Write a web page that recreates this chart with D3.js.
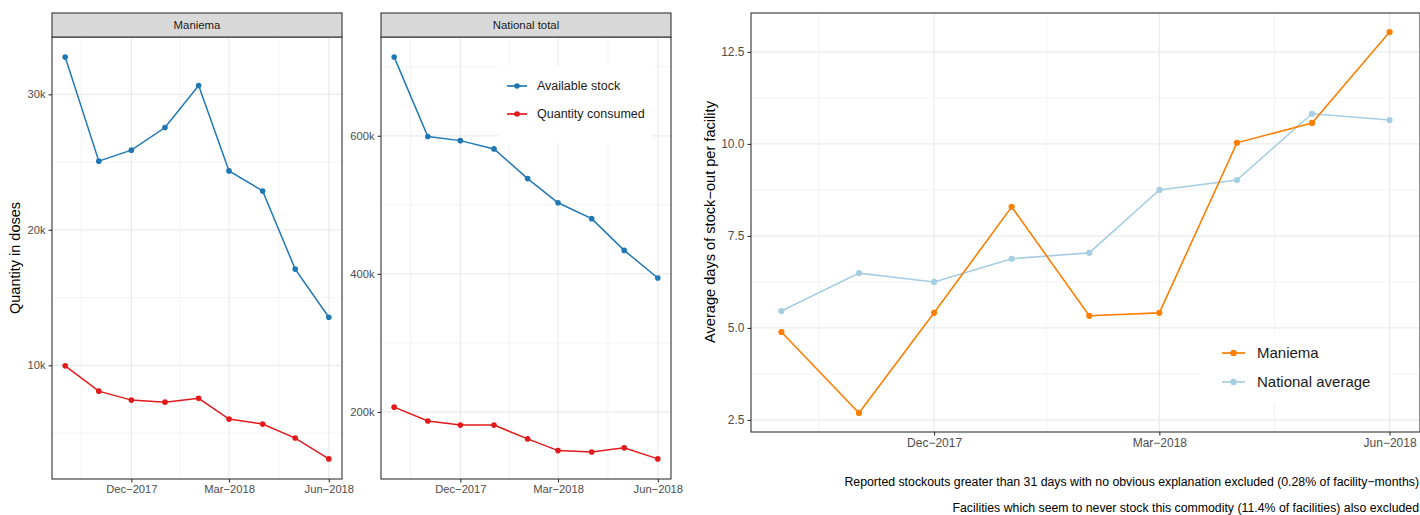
<!DOCTYPE html>
<html>
<head>
<meta charset="utf-8">
<script src="https://cdn.jsdelivr.net/npm/d3@7"></script>
<style>
  body { margin: 0; background: #fff; }
  svg { font-family: "Liberation Sans", Arial, sans-serif; }
  .grid-major { stroke: #ebebeb; stroke-width: 1.2; }
  .grid-minor { stroke: #efefef; stroke-width: 0.7; }
  .tick text { fill: #4d4d4d; }
  .tick line { stroke: #333; }
</style>
</head>
<body>
<script>
// months Oct-2017 .. Jun-2018
const months = ["2017-10-01", "2017-11-01", "2017-12-01", "2018-01-01", "2018-02-01",
  "2018-03-01", "2018-04-01", "2018-05-01", "2018-06-01"];

// left chart: quantity in doses
const maniemaStock = [32750, 25070, 25880, 27550, 30650, 24350, 22870, 17100, 13550];
const maniemaConsumed = [9960, 8090, 7430, 7280, 7560, 6030, 5660, 4630, 3090];
const nationalStock = [714000, 599000, 593000, 581000, 538000, 503000, 480000, 434000, 394000];
const nationalConsumed = [207000, 187000, 181000, 181000, 161000, 144000, 142000, 148000, 132000];

// right chart: average days of stock-out per facility
const maniemaDays = [4.89, 2.69, 5.41, 8.29, 5.33, 5.41, 10.03, 10.57, 13.04];
const nationalDays = [5.46, 6.49, 6.25, 6.88, 7.04, 8.75, 9.02, 10.82, 10.65];

const xBreaks = ["2017-12-01", "2018-03-01", "2018-06-01"];
const xMinorBreaks = ["2017-10-16", "2018-01-15", "2018-04-16"];
const maniemaYBreaks = [10000, 20000, 30000];
const maniemaYMinor = [5000, 15000, 25000];
const nationalYBreaks = [200000, 400000, 600000];
const nationalYMinor = [300000, 500000, 700000];
const daysYBreaks = [2.5, 5, 7.5, 10, 12.5];
const daysYMinor = [3.75, 6.25, 8.75, 11.25];

const qtyLegend = ["Available stock", "Quantity consumed"];
const daysLegend = ["Maniema", "National average"];
const footnotes = [
  "Reported stockouts greater than 31 days with no obvious explanation excluded (0.28% of facility\u2212months)",
  "Facilities which seem to never stock this commodity (11.4% of facilities) also excluded"
];

const colStock = "#1f78b4", colConsumed = "#e31a1c";
const colManiema = "#ff7f00", colNational = "#a6cee3";

const parse = d3.timeParse("%Y-%m-%d");
const dates = months.map(parse);
const fmtDate = (d) => d3.timeFormat("%b")(d) + "\u2212" + d3.timeFormat("%Y")(d);
const fmtK = (v) => (v / 1000) + "k";

const svg = d3.select("body").append("svg").attr("width", 1420).attr("height", 515);

// ggplot-style 5% expansion
function expand(ext) {
  const pad = (ext[1] - ext[0]) * 0.05;
  return [ext[0] - pad, ext[1] + pad];
}

function xScaleFor(x0, x1) {
  const ext = d3.extent(dates).map((d) => +d);
  return d3.scaleTime().domain(expand(ext).map((t) => new Date(t))).range([x0, x1]);
}

function drawPanel(opt) {
  const { x0, x1, y0, y1, series, yBreaks, yMinor, yFormat, tickSize, r, lw } = opt;
  const g = svg.append("g");
  const x = xScaleFor(x0, x1);
  const all = series.flatMap((s) => s.values);
  const y = d3.scaleLinear().domain(expand(d3.extent(all))).range([y1, y0]);

  // grid
  g.selectAll(".ymin").data(yMinor).join("line").attr("class", "grid-minor")
    .attr("x1", x0).attr("x2", x1).attr("y1", (d) => y(d)).attr("y2", (d) => y(d));
  g.selectAll(".xmin").data(xMinorBreaks.map(parse)).join("line").attr("class", "grid-minor")
    .attr("y1", y0).attr("y2", y1).attr("x1", (d) => x(d)).attr("x2", (d) => x(d));
  g.selectAll(".ymaj").data(yBreaks).join("line").attr("class", "grid-major")
    .attr("x1", x0).attr("x2", x1).attr("y1", (d) => y(d)).attr("y2", (d) => y(d));
  g.selectAll(".xmaj").data(xBreaks.map(parse)).join("line").attr("class", "grid-major")
    .attr("y1", y0).attr("y2", y1).attr("x1", (d) => x(d)).attr("x2", (d) => x(d));

  // lines + points
  const line = d3.line().x((d, i) => x(dates[i])).y((d) => y(d));
  series.forEach((s) => {
    g.append("path").datum(s.values).attr("d", line)
      .attr("fill", "none").attr("stroke", s.color).attr("stroke-width", lw);
    g.selectAll(null).data(s.values).join("circle")
      .attr("cx", (d, i) => x(dates[i])).attr("cy", (d) => y(d))
      .attr("r", r).attr("fill", s.color);
  });

  // border
  g.append("rect").attr("x", x0).attr("y", y0).attr("width", x1 - x0).attr("height", y1 - y0)
    .attr("fill", "none").attr("stroke", "#333").attr("stroke-width", 1.1);

  // axes
  const ax = g.append("g").attr("transform", `translate(0,${y1})`)
    .call(d3.axisBottom(x).tickValues(xBreaks.map(parse)).tickFormat(fmtDate)
      .tickSize(3.5).tickPadding(3));
  const ay = g.append("g").attr("transform", `translate(${x0},0)`)
    .call(d3.axisLeft(y).tickValues(yBreaks).tickFormat(yFormat).tickSize(3.5).tickPadding(3));
  [ax, ay].forEach((a) => {
    a.select(".domain").remove();
    a.selectAll(".tick text").style("font-size", tickSize + "px");
    a.selectAll(".tick line").attr("stroke", "#333").attr("stroke-width", 1.1);
  });
  return g;
}

function drawStrip(x0, x1, label) {
  svg.append("rect").attr("x", x0).attr("y", 13).attr("width", x1 - x0).attr("height", 24)
    .attr("fill", "#d9d9d9").attr("stroke", "#333").attr("stroke-width", 1.1);
  svg.append("text").attr("x", (x0 + x1) / 2).attr("y", 29).attr("text-anchor", "middle")
    .style("font-size", "11.4px").attr("fill", "#1a1a1a").text(label);
}

function drawLegend(lx, ly, w, h, labels, colors, keyX, keyW, textX, rows, fontSize, r) {
  svg.append("rect").attr("x", lx).attr("y", ly).attr("width", w).attr("height", h).attr("fill", "#fff");
  labels.forEach((lab, i) => {
    const cy = rows[i];
    svg.append("line").attr("x1", keyX).attr("x2", keyX + keyW).attr("y1", cy).attr("y2", cy)
      .attr("stroke", colors[i]).attr("stroke-width", 1.7);
    svg.append("circle").attr("cx", keyX + keyW / 2).attr("cy", cy).attr("r", r).attr("fill", colors[i]);
    svg.append("text").attr("x", textX).attr("y", cy).attr("dy", "0.35em")
      .style("font-size", fontSize + "px").attr("fill", "#1a1a1a").text(lab);
  });
}

// --- left: Maniema facet
drawPanel({
  x0: 52, x1: 342, y0: 37, y1: 479, tickSize: 11.2, r: 2.8, lw: 1.5,
  series: [{ values: maniemaStock, color: colStock }, { values: maniemaConsumed, color: colConsumed }],
  yBreaks: maniemaYBreaks, yMinor: maniemaYMinor, yFormat: fmtK
});
drawStrip(52, 342, "Maniema");

// --- middle: National total facet
drawPanel({
  x0: 381, x1: 671, y0: 37, y1: 479, tickSize: 11.2, r: 2.8, lw: 1.5,
  series: [{ values: nationalStock, color: colStock }, { values: nationalConsumed, color: colConsumed }],
  yBreaks: nationalYBreaks, yMinor: nationalYMinor, yFormat: fmtK
});
drawStrip(381, 671, "National total");

drawLegend(499, 66, 153, 77, qtyLegend, [colStock, colConsumed], 507, 20, 537, [86, 114], 12.5, 2.8);

svg.append("text").attr("transform", "translate(20,258) rotate(-90)").attr("text-anchor", "middle")
  .style("font-size", "14.5px").attr("fill", "#000").text("Quantity in doses");

// --- right chart
drawPanel({
  x0: 751, x1: 1420, y0: 13, y1: 432, tickSize: 12, r: 3.1, lw: 1.6,
  series: [{ values: nationalDays, color: colNational }, { values: maniemaDays, color: colManiema }],
  yBreaks: daysYBreaks, yMinor: daysYMinor, yFormat: d3.format(".1f")
});

drawLegend(1199, 333, 190, 70, daysLegend, [colManiema, colNational], 1222, 23, 1257, [353, 382], 15, 3.2);

svg.append("text").attr("transform", "translate(715,222) rotate(-90)").attr("text-anchor", "middle")
  .style("font-size", "14.6px").attr("fill", "#000").text("Average days of stock\u2212out per facility");

footnotes.forEach((t, i) => {
  svg.append("text").attr("x", 1419).attr("y", 486 + i * 26).attr("text-anchor", "end")
    .style("font-size", "12.3px").attr("fill", "#000").text(t);
});
</script>
</body>
</html>
